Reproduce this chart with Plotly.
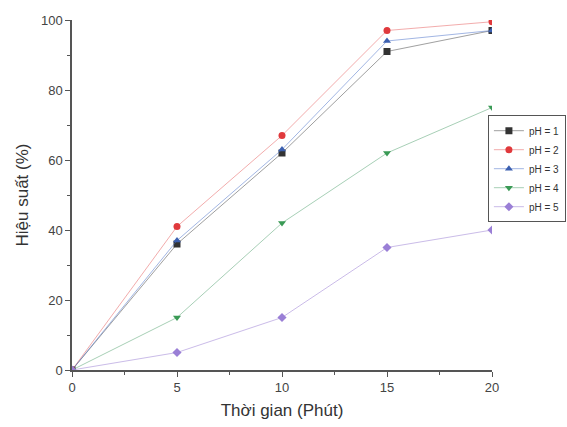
import plotly.graph_objects as go

time_min = [0, 5, 10, 15, 20]
ph1 = [0, 36, 62, 91, 97]
ph2 = [0, 41, 67, 97, 99.5]
ph3 = [0, 37, 63, 94, 97]
ph4 = [0, 15, 42, 62, 75]
ph5 = [0, 5, 15, 35, 40]
names = ["pH = 1", "pH = 2", "pH = 3", "pH = 4", "pH = 5"]

series = [ph1, ph2, ph3, ph4, ph5]
marker_colors = ["#333333", "#e0393c", "#3b5fb0", "#3a9a55", "#9a7fd6"]
line_colors = ["rgba(80,80,80,0.55)", "rgba(230,90,90,0.5)", "rgba(70,110,200,0.5)",
               "rgba(80,160,110,0.5)", "rgba(150,120,210,0.5)"]
symbols = ["square", "circle", "triangle-up", "triangle-down", "diamond"]

fig = go.Figure()
for vals, nm, mc, lc, sym in zip(series, names, marker_colors, line_colors, symbols):
    fig.add_trace(go.Scatter(
        x=time_min, y=vals, name=nm, mode="lines+markers",
        line=dict(color=lc, width=1),
        marker=dict(color=mc, symbol=sym, size=7),
    ))

axis_common = dict(
    showline=True, linecolor="#555555", linewidth=1.5, mirror=False,
    showgrid=False, zeroline=False, ticks="outside", ticklen=5, tickwidth=1.2,
    tickcolor="#555555", tickfont=dict(family="Arial", size=13, color="#444444"),
)
fig.update_xaxes(range=[0, 20], tickvals=[0, 5, 10, 15, 20],
                 minor=dict(tickvals=[2.5, 7.5, 12.5, 17.5], ticks="outside", ticklen=3, tickcolor="#555555"),
                 title=dict(text="Thời gian (Phút)", font=dict(family="Arial", size=17, color="#333333"), standoff=10),
                 **axis_common)
fig.update_yaxes(range=[0, 100], tickvals=[0, 20, 40, 60, 80, 100],
                 minor=dict(tickvals=[10, 30, 50, 70, 90], ticks="outside", ticklen=3, tickcolor="#555555"),
                 title=dict(text="Hiệu suất (%)", font=dict(family="Arial", size=17, color="#333333"), standoff=8),
                 **axis_common)

fig.update_layout(
    width=567, height=427,
    margin=dict(l=72, r=75, t=20, b=57, autoexpand=False),
    plot_bgcolor="white", paper_bgcolor="white",
    showlegend=True,
    legend=dict(x=1.176, y=0.728, xanchor="right", yanchor="top",
                bordercolor="#555555", borderwidth=1, bgcolor="rgba(255,255,255,0)",
                font=dict(family="Arial", size=10, color="#333333"),
                tracegroupgap=0, itemwidth=30),
)

fig.write_html("out.html")
